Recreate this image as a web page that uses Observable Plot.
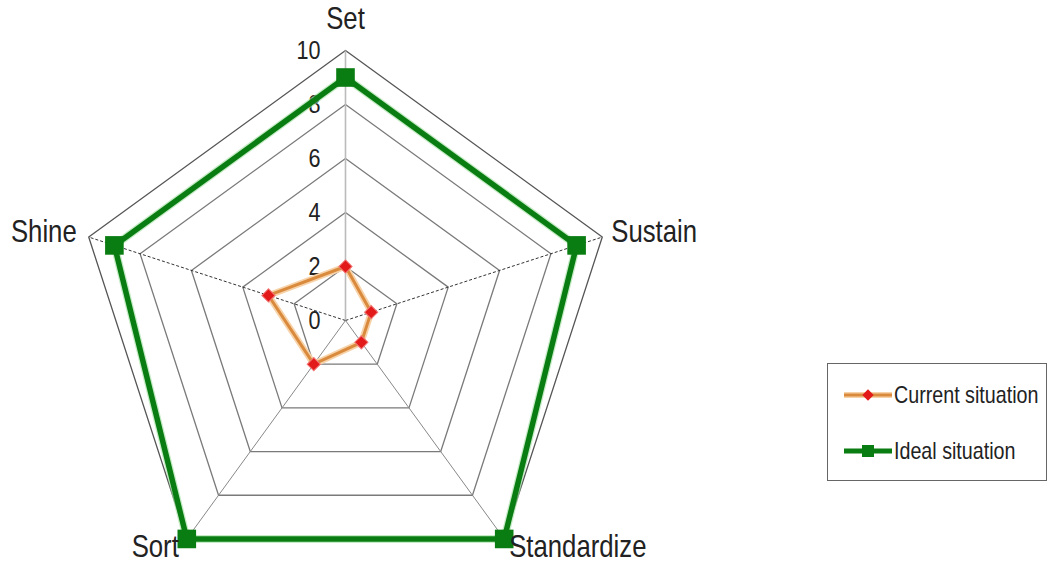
<!DOCTYPE html>
<html>
<head>
<meta charset="utf-8">
<script src="https://cdn.jsdelivr.net/npm/d3@7"></script>
<script src="https://cdn.jsdelivr.net/npm/@observablehq/plot@0.6"></script>
<style>
  html, body { margin: 0; padding: 0; background: #fff; }
  #wrap { position: relative; width: 1051px; height: 563px; overflow: hidden; font-family: "Liberation Sans", Arial, sans-serif; }
  #legend { position: absolute; left: 827px; top: 363px; width: 220px; height: 118px;
    border: 1.5px solid #666; background: #fff; box-sizing: border-box; }
  .row { position: absolute; left: 14px; display: flex; align-items: center; color: #222; height: 24px; }
  .row span { display: inline-block; font-size: 24px; transform: scaleX(0.82); transform-origin: left center; white-space: nowrap; }
</style>
</head>
<body>
<div id="wrap"></div>
<script>
// ---- data ----
const categories = ["Set", "Sustain", "Standardize", "Sort", "Shine"];
const currentValues = [2, 1, 1, 2, 3];
const idealValues = [9, 9, 10, 10, 9];
const tickValues = [0, 2, 4, 6, 8, 10];
const seriesNames = ["Current situation", "Ideal situation"];
const maxValue = 10;

// ---- helpers (polar -> cartesian, derived from the data) ----
const n = categories.length;
const ang = i => (i * 2 * Math.PI) / n;
const px = (i, r) => r * Math.sin(ang(i));
const py = (i, r) => r * Math.cos(ang(i));

const gridPts = [];
for (const t of tickValues.filter(t => t > 0)) {
  categories.forEach((c, i) => gridPts.push({ tick: t, x: px(i, t), y: py(i, t) }));
}
const spokes = categories.map((c, i) => ({ cat: c, x2: px(i, maxValue), y2: py(i, maxValue) }));
const seriesPts = [];
[currentValues, idealValues].forEach((vals, s) => {
  vals.forEach((v, i) => seriesPts.push({ series: seriesNames[s], cat: categories[i], value: v, x: px(i, v), y: py(i, v) }));
});
const cur = seriesPts.filter(d => d.series === seriesNames[0]);
const idl = seriesPts.filter(d => d.series === seriesNames[1]);
const labelPts = categories.map((c, i) => ({ cat: c, i, x: px(i, maxValue), y: py(i, maxValue) }));
const labelStyle = [
  { anchor: "middle", dx: 0, dy: -31 },
  { anchor: "start", dx: 9, dy: -5 },
  { anchor: "start", dx: 5, dy: 8 },
  { anchor: "end", dx: -8, dy: 8 },
  { anchor: "end", dx: -12, dy: -5 }
];

const unit = 27;
const cx = 345, cy = 320, W = 1051, H = 563;

const chart = Plot.plot({
  width: W,
  height: H,
  margin: 0,
  x: { domain: [-cx / unit, (W - cx) / unit], axis: null },
  y: { domain: [-(H - cy) / unit, cy / unit], axis: null },
  style: { fontFamily: '"Liberation Sans", Arial, sans-serif', background: "#fff" },
  marks: [
    Plot.line(gridPts, { x: "x", y: "y", z: "tick", curve: "linear-closed",
      stroke: d => d.tick === maxValue ? "#555" : "#7a7a7a", strokeWidth: 1.3 }),
    Plot.link(spokes.filter(d => d.cat === "Set"), { x1: 0, y1: 0, x2: "x2", y2: "y2", stroke: "#bbb", strokeWidth: 1.6 }),
    Plot.link(spokes.filter(d => d.cat === "Sustain" || d.cat === "Shine"), { x1: 0, y1: 0, x2: "x2", y2: "y2", stroke: "#333", strokeWidth: 1, strokeDasharray: "3,2" }),
    Plot.link(spokes.filter(d => d.cat === "Sort" || d.cat === "Standardize"), { x1: 0, y1: 0, x2: "x2", y2: "y2", stroke: "#888", strokeWidth: 1 }),
    Plot.text(tickValues, { x: 0, y: d => d, text: d => String(d), textAnchor: "end", dx: -25, fontSize: 26, fill: "#222" }),
    Plot.line(idl, { x: "x", y: "y", curve: "linear-closed", stroke: "#9fe09f", strokeWidth: 8, strokeOpacity: 0.6 }),
    Plot.line(idl, { x: "x", y: "y", curve: "linear-closed", stroke: "#0a7d12", strokeWidth: 5.5 }),
    Plot.dot(idl, { x: "x", y: "y", symbol: "square", r: 10.5, fill: "#0a7d12", stroke: null }),
    Plot.line(cur, { x: "x", y: "y", curve: "linear-closed", stroke: "#f7d2a8", strokeWidth: 6.5 }),
    Plot.line(cur, { x: "x", y: "y", curve: "linear-closed", stroke: "#d98a3d", strokeWidth: 3 }),
    Plot.dot(cur, { x: "x", y: "y", symbol: "square", rotate: 45, r: 5.3, fill: "#e21a1a", stroke: "#f37a7a", strokeWidth: 1 }),
    ...labelPts.map(d => Plot.text([d], { x: "x", y: "y", text: "cat", textAnchor: labelStyle[d.i].anchor,
      dx: labelStyle[d.i].dx, dy: labelStyle[d.i].dy, fontSize: 31, fill: "#222" }))
  ]
});
// narrow the text horizontally, like the reference's condensed lettering
chart.querySelectorAll("text").forEach(t => {
  const tr = t.getAttribute("transform");
  if (tr) t.setAttribute("transform", tr + " scale(0.83,1)");
});
const wrap = document.getElementById("wrap");
wrap.appendChild(chart);

const legend = document.createElement("div");
legend.id = "legend";
const sample = (s) => s === 0
  ? `<svg width="52" height="20"><line x1="2" y1="10" x2="50" y2="10" stroke="#f7d2a8" stroke-width="6"/><line x1="2" y1="10" x2="50" y2="10" stroke="#d98a3d" stroke-width="3"/><rect x="22" y="6" width="8" height="8" fill="#e21a1a" transform="rotate(45 26 10)"/></svg>`
  : `<svg width="52" height="20"><line x1="2" y1="10" x2="50" y2="10" stroke="#0a7d12" stroke-width="5"/><rect x="20" y="4" width="12" height="12" fill="#0a7d12"/></svg>`;
legend.innerHTML = seriesNames.map((s, k) =>
  `<div class="row" style="top:${k === 0 ? 19 : 75}px">${sample(k)}<span>${s}</span></div>`).join("");
wrap.appendChild(legend);
</script>
</body>
</html>
